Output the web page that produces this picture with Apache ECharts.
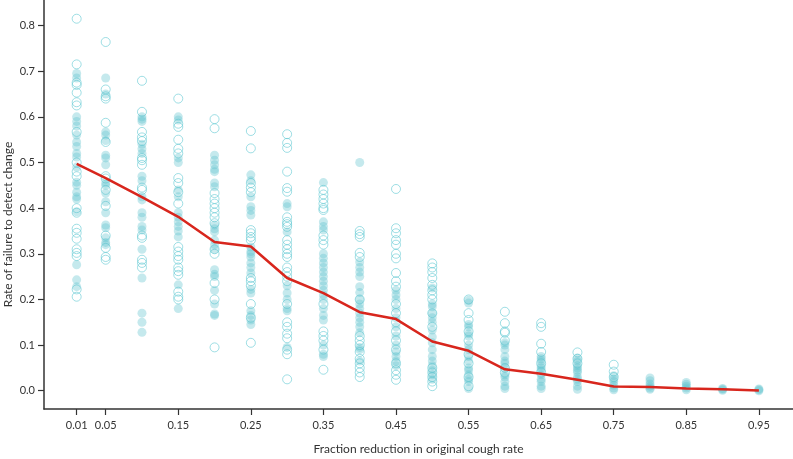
<!DOCTYPE html>
<html>
<head>
<meta charset="utf-8">
<script src="https://cdn.jsdelivr.net/npm/echarts@6/dist/echarts.min.js"></script>
<style>
  html, body { margin: 0; padding: 0; background: #fff; }
  #chart { width: 793px; height: 459px; }
</style>
</head>
<body>
<div id="chart"></div>
<script>
// fraction reduction levels (one column of points per level)
const reductions = [0.01, 0.05, 0.1, 0.15, 0.2, 0.25, 0.3, 0.35, 0.4, 0.45,
  0.5, 0.55, 0.6, 0.65, 0.7, 0.75, 0.8, 0.85, 0.9, 0.95]

// mean failure rate (red line)
const meanFailure = [0.497, 0.466, 0.424, 0.381, 0.326, 0.316, 0.247, 0.214, 0.172, 0.157,
  0.108, 0.0875, 0.047, 0.037, 0.024, 0.0095, 0.008, 0.005, 0.003, 0.0007]

// individual runs drawn as open circles, per column
const hollowRuns = [
  [0.815, 0.715, 0.675, 0.67, 0.653, 0.632, 0.625, 0.567, 0.50, 0.48, 0.47, 0.40, 0.39, 0.355, 0.346, 0.333, 0.31, 0.302, 0.295, 0.222, 0.206],
  [0.764, 0.66, 0.645, 0.64, 0.587, 0.545, 0.47, 0.465, 0.44, 0.405, 0.34, 0.313, 0.293, 0.287],
  [0.679, 0.611, 0.567, 0.555, 0.547, 0.51, 0.505, 0.495, 0.445, 0.44, 0.34, 0.335, 0.287, 0.28, 0.27],
  [0.64, 0.585, 0.578, 0.55, 0.53, 0.52, 0.466, 0.455, 0.435, 0.41, 0.315, 0.305, 0.295, 0.287, 0.27, 0.262, 0.254, 0.217, 0.206, 0.2],
  [0.595, 0.575, 0.433, 0.42, 0.41, 0.40, 0.39, 0.38, 0.367, 0.31, 0.3, 0.236, 0.2, 0.095],
  [0.569, 0.531, 0.455, 0.445, 0.435, 0.352, 0.345, 0.337, 0.33, 0.247, 0.24, 0.23, 0.19, 0.16, 0.105],
  [0.562, 0.543, 0.532, 0.48, 0.444, 0.436, 0.38, 0.37, 0.365, 0.359, 0.33, 0.32, 0.31, 0.3, 0.293, 0.27, 0.26, 0.25, 0.24, 0.19, 0.15, 0.14, 0.125, 0.115, 0.09, 0.08, 0.025],
  [0.44, 0.43, 0.42, 0.41, 0.4, 0.396, 0.34, 0.33, 0.32, 0.19, 0.13, 0.12, 0.11, 0.09, 0.046],
  [0.35, 0.343, 0.337, 0.302, 0.293, 0.2, 0.12, 0.11, 0.1, 0.085, 0.07, 0.06, 0.05, 0.04, 0.03],
  [0.442, 0.356, 0.345, 0.33, 0.32, 0.3, 0.29, 0.258, 0.24, 0.228, 0.19, 0.17, 0.15, 0.13, 0.11, 0.09, 0.06, 0.045, 0.035, 0.024],
  [0.279, 0.27, 0.26, 0.247, 0.232, 0.22, 0.21, 0.2, 0.17, 0.14, 0.05, 0.04, 0.03, 0.02, 0.01],
  [0.2, 0.17, 0.155, 0.13, 0.11, 0.08, 0.06, 0.03, 0.01],
  [0.173, 0.148, 0.13, 0.127, 0.11, 0.05, 0.04],
  [0.148, 0.14, 0.103, 0.085, 0.06, 0.04],
  [0.084, 0.07, 0.06],
  [0.057, 0.042, 0.03],
  [], [], [], []
]

// individual runs drawn as filled circles, per column
const filledRuns = [
  [0.695, 0.685, 0.60, 0.59, 0.58, 0.56, 0.545, 0.535, 0.52, 0.512, 0.49, 0.457, 0.45, 0.435, 0.425, 0.42, 0.392, 0.276, 0.243, 0.228],
  [0.685, 0.65, 0.567, 0.56, 0.548, 0.516, 0.51, 0.495, 0.455, 0.45, 0.433, 0.414, 0.39, 0.363, 0.357, 0.335, 0.325, 0.32],
  [0.60, 0.595, 0.59, 0.54, 0.53, 0.52, 0.47, 0.46, 0.425, 0.418, 0.39, 0.38, 0.36, 0.352, 0.31, 0.247, 0.17, 0.15, 0.128],
  [0.60, 0.593, 0.51, 0.50, 0.44, 0.425, 0.39, 0.38, 0.37, 0.36, 0.35, 0.337, 0.232, 0.18],
  [0.516, 0.505, 0.495, 0.485, 0.48, 0.455, 0.447, 0.363, 0.355, 0.348, 0.33, 0.32, 0.31, 0.265, 0.255, 0.25, 0.22, 0.19, 0.168, 0.165],
  [0.473, 0.46, 0.425, 0.403, 0.395, 0.385, 0.315, 0.305, 0.3, 0.293, 0.28, 0.27, 0.258, 0.222, 0.214, 0.175, 0.165, 0.155, 0.145],
  [0.41, 0.403, 0.348, 0.23, 0.214, 0.2, 0.18, 0.175, 0.095],
  [0.456, 0.37, 0.36, 0.352, 0.3, 0.29, 0.28, 0.27, 0.26, 0.25, 0.24, 0.23, 0.22, 0.21, 0.2, 0.18, 0.165, 0.155, 0.1, 0.08, 0.075],
  [0.50, 0.282, 0.27, 0.26, 0.25, 0.228, 0.215, 0.2, 0.19, 0.18, 0.17, 0.16, 0.15, 0.14, 0.127, 0.095, 0.09, 0.065],
  [0.22, 0.21, 0.2, 0.18, 0.16, 0.14, 0.12, 0.1, 0.085, 0.075, 0.065, 0.055],
  [0.225, 0.19, 0.184, 0.17, 0.16, 0.15, 0.133, 0.118, 0.105, 0.09, 0.075, 0.065, 0.055, 0.045, 0.035, 0.025],
  [0.198, 0.192, 0.145, 0.14, 0.125, 0.12, 0.1, 0.09, 0.075, 0.065, 0.05, 0.045, 0.035, 0.025, 0.02, 0.005],
  [0.105, 0.1, 0.09, 0.075, 0.065, 0.06, 0.05, 0.035, 0.03, 0.02, 0.01, 0.005],
  [0.075, 0.07, 0.065, 0.055, 0.05, 0.045, 0.035, 0.025, 0.02, 0.01, 0.005],
  [0.072, 0.065, 0.055, 0.05, 0.045, 0.04, 0.03, 0.025, 0.02, 0.01, 0.003],
  [0.033, 0.025, 0.02, 0.012, 0.006, 0.002],
  [0.028, 0.022, 0.015, 0.01, 0.006, 0.003],
  [0.018, 0.014, 0.01, 0.006, 0.002],
  [0.005, 0.003, 0.001],
  [0.004, 0.002, 0.0]
]

// tick labels
const xTicks = [0.01, 0.05, 0.15, 0.25, 0.35, 0.45, 0.55, 0.65, 0.75, 0.85, 0.95]
const yTicks = [0, 0.1, 0.2, 0.3, 0.4, 0.5, 0.6, 0.7, 0.8]

const toPoints = (runs) => {
  const pts = []
  runs.forEach((col, i) => col.forEach((v) => pts.push([reductions[i], v])))
  return pts
}

const axisColor = '#333'
const labelFont = 'Lato'
const titleFont = 'Lato'

const chart = echarts.init(document.getElementById('chart'))

chart.setOption({
  animation: false,
  grid: { left: 44, right: 0, top: 0, bottom: 50, containLabel: false, outerBoundsMode: 'none' },
  xAxis: {
    type: 'value',
    min: -0.035,
    max: 0.997,
    name: 'Fraction reduction in original cough rate',
    nameLocation: 'middle',
    nameGap: 34,
    nameTextStyle: { fontFamily: titleFont, fontSize: 12, color: '#333' },
    splitLine: { show: false },
    axisLine: { show: true, onZero: false, lineStyle: { color: axisColor, width: 1.5 } },
    axisTick: { show: true, length: 6, customValues: xTicks, lineStyle: { color: axisColor, width: 1.2 } },
    axisLabel: {
      customValues: xTicks,
      margin: 11,
      fontFamily: labelFont,
      fontSize: 11,
      color: '#333',
      formatter: (v) => v.toFixed(2),
    },
  },
  yAxis: {
    type: 'value',
    min: -0.04,
    max: 0.856,
    name: 'Rate of failure to detect change',
    nameLocation: 'middle',
    nameGap: 30,
    nameMoveOverlap: false,
    nameTextStyle: { fontFamily: titleFont, fontSize: 12, color: '#333', padding: [0, 40, 0, 0] },
    splitLine: { show: false },
    axisLine: { show: true, onZero: false, lineStyle: { color: axisColor, width: 1.5 } },
    axisTick: { show: true, length: 6, customValues: yTicks, lineStyle: { color: axisColor, width: 1.2 } },
    axisLabel: {
      customValues: yTicks,
      margin: 9,
      fontFamily: labelFont,
      fontSize: 11,
      color: '#333',
      formatter: (v) => v.toFixed(1),
    },
  },
  series: [
    {
      name: 'open',
      type: 'scatter',
      data: toPoints(hollowRuns),
      symbol: 'circle',
      symbolSize: 9,
      itemStyle: {
        color: 'rgba(255,255,255,0)',
        borderColor: 'rgba(95,200,210,0.75)',
        borderWidth: 1,
      },
      z: 2,
    },
    {
      name: 'filled',
      type: 'scatter',
      data: toPoints(filledRuns),
      symbol: 'circle',
      symbolSize: 9,
      itemStyle: { color: 'rgba(95,195,205,0.45)' },
      z: 2,
    },
    {
      name: 'mean',
      type: 'line',
      data: reductions.map((x, i) => [x, meanFailure[i]]),
      symbol: 'none',
      lineStyle: { color: '#d8261d', width: 2.5 },
      z: 3,
    },
  ],
})
</script>
</body>
</html>
